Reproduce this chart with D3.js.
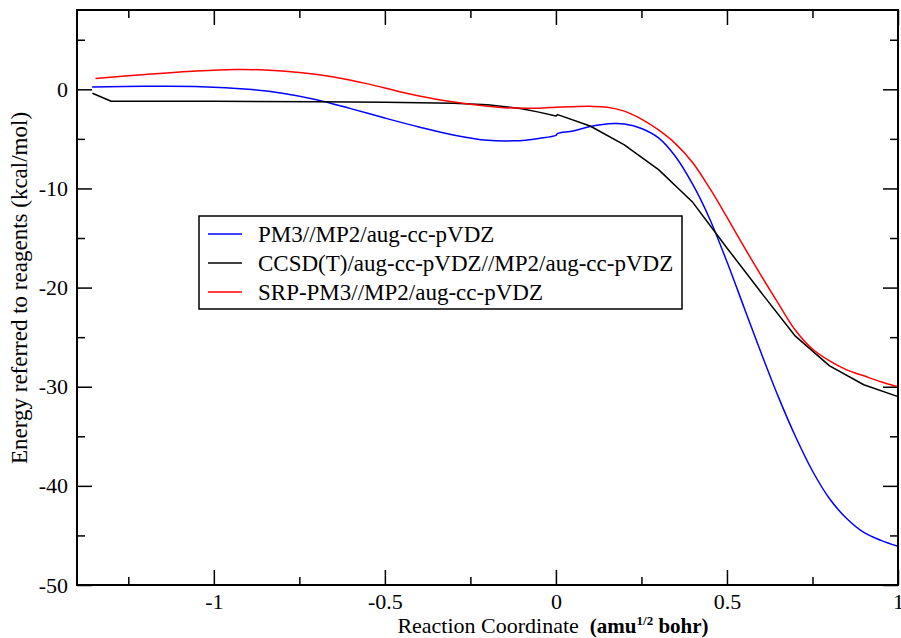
<!DOCTYPE html>
<html>
<head>
<meta charset="utf-8">
<script src="https://cdn.jsdelivr.net/npm/d3@7"></script>
<style>
  body { margin: 0; background: #fff; }
</style>
</head>
<body>
<svg id="chart" width="901" height="638"></svg>
<script>
// Reaction coordinate (amu^1/2 bohr) and energy (kcal/mol).
const pm3X = [-1.356, -1.2, -1.037, -0.9, -0.8, -0.7, -0.6, -0.5, -0.4, -0.3, -0.2, -0.12, -0.05, 0.0,
  0.005, 0.05, 0.1, 0.17, 0.2, 0.25, 0.3, 0.35, 0.4, 0.45, 0.5, 0.55, 0.6, 0.65, 0.7, 0.75, 0.8, 0.85, 0.9, 0.95, 1.0];
const pm3Y = [0.23, 0.3, 0.27, 0.0, -0.4, -1.05, -1.95, -2.9, -3.8, -4.6, -5.15, -5.2, -4.95, -4.65,
  -4.45, -4.2, -3.75, -3.45, -3.5, -3.95, -4.9, -6.8, -9.6, -13.1, -17.4, -22.0, -26.6, -31.0, -35.0, -38.5, -41.3, -43.3, -44.7, -45.5, -46.1];

const ccsdX = [-1.355, -1.3, -1.0, -0.7, -0.5, -0.3, -0.2, -0.1, -0.05, 0.0,
  0.005, 0.1, 0.2, 0.3, 0.4, 0.5, 0.6, 0.7, 0.8, 0.9, 1.0];
const ccsdY = [-0.4, -1.2, -1.2, -1.25, -1.3, -1.4, -1.55, -1.95, -2.3, -2.7,
  -2.55, -3.7, -5.6, -8.1, -11.4, -16.0, -20.5, -24.9, -27.9, -29.8, -31.0];

const srpX = [-1.346, -1.2, -1.05, -0.94, -0.85, -0.75, -0.65, -0.55, -0.45, -0.35, -0.25, -0.15, -0.05, 0.0,
  0.05, 0.1, 0.15, 0.2, 0.25, 0.3, 0.35, 0.4, 0.45, 0.5, 0.55, 0.6, 0.65, 0.7, 0.75, 0.8, 0.85, 0.9, 0.95, 1.0];
const srpY = [1.1, 1.5, 1.85, 2.0, 1.95, 1.7, 1.25, 0.55, -0.3, -1.0, -1.5, -1.85, -1.9, -1.8,
  -1.75, -1.72, -1.8, -2.2, -3.0, -4.1, -5.5, -7.4, -10.0, -12.9, -15.9, -18.8, -21.6, -24.3, -26.2, -27.4, -28.3, -28.9, -29.5, -30.0];

const seriesNames = ["PM3//MP2/aug-cc-pVDZ", "CCSD(T)/aug-cc-pVDZ//MP2/aug-cc-pVDZ", "SRP-PM3//MP2/aug-cc-pVDZ"];
const seriesColors = ["#0000ff", "#000000", "#ff0000"];

const xMajor = [-1, -0.5, 0, 0.5, 1];
const xMinor = [-1.25, -0.75, -0.25, 0.25, 0.75];
const yMajor = [-50, -40, -30, -20, -10, 0];
const yMinor = [-45, -35, -25, -15, -5, 5];

const FONT = '"Liberation Serif", "Times New Roman", serif';

const svg = d3.select("#chart");
const margin = { top: 10, right: 3, bottom: 53, left: 77 };
const width = +svg.attr("width") - margin.left - margin.right;
const height = +svg.attr("height") - margin.top - margin.bottom;

const x = d3.scaleLinear().domain([-1.4, 1]).range([0, width]);
const y = d3.scaleLinear().domain([-50, 8]).range([height, 0]);

const g = svg.append("g").attr("transform", `translate(${margin.left},${margin.top})`);

const fmt = d => String(d);

// Axes with inward ticks on all four sides.
function styleAxis(sel) {
  sel.attr("font-family", null);
  sel.select(".domain").remove();
  sel.selectAll(".tick line").attr("stroke", "#000").attr("stroke-width", 1.5);
  sel.selectAll("text").style("font-family", FONT).style("font-size", "22px").attr("fill", "#000");
}
g.append("g").attr("transform", `translate(0,${height})`)
  .call(d3.axisBottom(x).tickValues(xMajor).tickSize(-15).tickPadding(8).tickFormat(fmt)).call(styleAxis);
g.append("g").attr("transform", `translate(0,${height})`)
  .call(d3.axisBottom(x).tickValues(xMinor).tickSize(-8).tickFormat("")).call(styleAxis);
g.append("g")
  .call(d3.axisTop(x).tickValues(xMajor).tickSize(-15).tickFormat("")).call(styleAxis);
g.append("g")
  .call(d3.axisTop(x).tickValues(xMinor).tickSize(-8).tickFormat("")).call(styleAxis);

g.append("g")
  .call(d3.axisLeft(y).tickValues(yMajor).tickSize(-15).tickPadding(9).tickFormat(fmt)).call(styleAxis);
g.append("g")
  .call(d3.axisLeft(y).tickValues(yMinor).tickSize(-8).tickFormat("")).call(styleAxis);
g.append("g").attr("transform", `translate(${width},0)`)
  .call(d3.axisRight(y).tickValues(yMajor).tickSize(-15).tickFormat("")).call(styleAxis);
g.append("g").attr("transform", `translate(${width},0)`)
  .call(d3.axisRight(y).tickValues(yMinor).tickSize(-8).tickFormat("")).call(styleAxis);

// Curves.
const line = d3.line().x(d => x(d[0])).y(d => y(d[1])).curve(d3.curveCatmullRom.alpha(0.5));
const lineLin = d3.line().x(d => x(d[0])).y(d => y(d[1]));
const series = [
  { pts: d3.zip(pm3X, pm3Y), gen: line },
  { pts: d3.zip(ccsdX, ccsdY), gen: lineLin },
  { pts: d3.zip(srpX, srpY), gen: line }
];
series.forEach((s, i) => {
  g.append("path")
    .datum(s.pts)
    .attr("fill", "none")
    .attr("stroke", seriesColors[i])
    .attr("stroke-width", 1.5)
    .attr("stroke-linejoin", "round")
    .attr("d", s.gen);
});

// Frame.
g.append("rect")
  .attr("width", width).attr("height", height)
  .attr("fill", "none").attr("stroke", "#000").attr("stroke-width", 2);

// Legend.
const legend = svg.append("g").attr("transform", "translate(199,216)");
legend.append("rect").attr("width", 483).attr("height", 93)
  .attr("fill", "#fff").attr("stroke", "#000").attr("stroke-width", 1.5);
seriesNames.forEach((name, i) => {
  const yy = 18 + i * 29;
  legend.append("line").attr("x1", 9).attr("x2", 43).attr("y1", yy).attr("y2", yy)
    .attr("stroke", seriesColors[i]).attr("stroke-width", 1.5);
  legend.append("text").attr("x", 59).attr("y", yy + 8)
    .style("font-family", FONT).style("font-size", "23px").text(name);
});

// Axis titles.
const xt = svg.append("text")
  .attr("x", 553).attr("y", 633)
  .attr("text-anchor", "middle").style("font-family", FONT).style("font-size", "22px");
xt.append("tspan").text("Reaction Coordinate\u00a0\u00a0");
xt.append("tspan").attr("font-weight", "bold").style("font-size", "21px").text("(amu");
xt.append("tspan").attr("font-weight", "bold").style("font-size", "13px").attr("dy", -8).text("1/2");
xt.append("tspan").attr("font-weight", "bold").style("font-size", "21px").attr("dy", 8).text(" bohr)");

svg.append("text")
  .attr("transform", "translate(27,288) rotate(-90)")
  .attr("text-anchor", "middle").style("font-family", FONT).style("font-size", "23px")
  .text("Energy referred to reagents (kcal/mol)");
</script>
</body>
</html>
